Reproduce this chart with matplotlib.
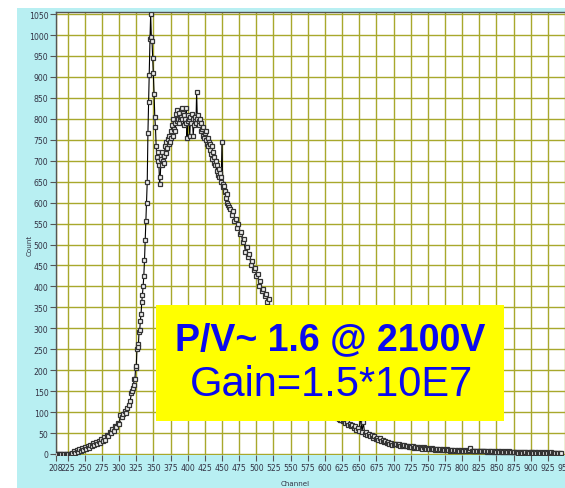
import matplotlib
matplotlib.use("Agg")
import matplotlib.pyplot as plt
from matplotlib.patches import Rectangle
from matplotlib import font_manager
from matplotlib.font_manager import FontProperties
import numpy as np

# ---- data ----
ch_a = list(range(208, 320, 2))
counts_a = [0, 0, 0, 0, 0, 0, 0, 0, 0, 0, 0, 1, 2, 6, 3, 9, 5, 12, 8, 14,
            10, 17, 12, 19, 15, 22, 18, 26, 21, 28, 24, 32, 27, 35, 30, 40, 34, 46, 42, 52,
            50, 60, 56, 68, 65, 74, 72, 92, 88, 96, 102, 98, 110, 118, 126, 145]

ch_b = list(range(319, 461))
counts_b = [150, 158, 165, 180, 178, 205, 210, 250, 262, 255, 290, 295, 318, 335, 362, 380, 400, 425, 462, 510,
            555, 600, 650, 765, 840, 905, 990, 1050, 995, 985, 945, 910, 860, 805, 780, 735, 710, 700, 720, 690,
            645, 660, 705, 690, 720, 700, 712, 695, 735, 718, 745, 730, 752, 740, 760, 745, 770, 755, 785, 760,
            800, 775, 790, 770, 812, 795, 820, 800, 790, 815, 800, 805, 825, 800, 815, 785, 810, 800, 790, 825,
            755, 795, 810, 800, 758, 805, 790, 812, 800, 760, 785, 800, 805, 790, 864, 800, 810, 795, 785, 800,
            770, 790, 775, 760, 780, 755, 765, 750, 770, 740, 755, 735, 745, 725, 740, 715, 735, 705, 720, 695,
            710, 690, 700, 675, 690, 665, 680, 660, 670, 650, 662, 745, 645, 637, 640, 625, 628, 612, 620, 600,
            595, 590]

ch_c = list(range(462, 702, 2))
counts_c = [585, 570, 580, 555, 560, 540, 548, 525, 530, 505, 512, 482, 495, 470, 478, 452, 460, 440, 445, 425,
            430, 401, 412, 390, 395, 377, 383, 362, 370, 350, 345, 335, 338, 325, 320, 312, 314, 302, 300, 290,
            285, 278, 272, 266, 260, 252, 248, 240, 235, 228, 222, 215, 210, 203, 198, 190, 186, 178, 174, 166,
            162, 155, 150, 145, 140, 134, 130, 125, 120, 116, 112, 108, 104, 100, 98, 94, 92, 88, 86, 83,
            80, 82, 78, 80, 74, 76, 70, 72, 66, 70, 62, 66, 58, 62, 55, 94, 52, 76, 48, 52,
            45, 48, 42, 45, 38, 42, 36, 39, 34, 37, 30, 33, 28, 31, 26, 29, 24, 27, 22, 25]

ch_d = list(range(702, 946, 2))
counts_d = [23, 25, 21, 24, 20, 22, 19, 21, 18, 20,
            17, 19, 16, 18, 15, 17, 16, 14, 17, 15,
            13, 16, 14, 12, 15, 13, 11, 14, 12, 10,
            13, 11, 10, 12, 9, 11, 10, 9, 11, 9,
            8, 10, 9, 8, 10, 8, 9, 7, 9, 8,
            7, 9, 8, 7, 9, 14, 8, 7, 8, 6,
            8, 7, 6, 8, 6, 7, 6, 5, 7, 6,
            5, 7, 5, 6, 5, 8, 5, 6, 5, 4,
            6, 5, 4, 6, 5, 4, 5, 4, 5, 4,
            3, 5, 4, 3, 5, 4, 3, 4, 3, 5,
            4, 3, 4, 3, 4, 3, 2, 4, 3, 2,
            4, 3, 2, 3, 4, 2, 3, 2, 3, 2,
            3, 2]

channels = ch_a + ch_b + ch_c + ch_d
counts = counts_a + counts_b + counts_c + counts_d

x_ticks = [208] + list(range(225, 951, 25))
y_ticks = list(range(0, 1051, 50))

label_line1 = "P/V~ 1.6 @ 2100V"
label_line2 = "Gain=1.5*10E7"

# ---- fonts ----
names = {f.name for f in font_manager.fontManager.ttflist}
has_narrow = "Liberation Sans Narrow" in names
tick_family = ["Liberation Sans Narrow", "DejaVu Sans"] if has_narrow else ["DejaVu Sans"]
tick_size = 7 if has_narrow else 5.6
box_family = ["Liberation Sans", "DejaVu Sans"]

# ---- figure ----
W, H = 565, 489
fig = plt.figure(figsize=(W / 100, H / 100), dpi=100, facecolor="white")

cyan = "#B8EFF2"
fig.patches.append(Rectangle((17 / W, 0), 1 - 17 / W, (H - 9) / H,
                             transform=fig.transFigure, facecolor=cyan,
                             edgecolor="none", zorder=-10))

ax_left, ax_right = 56 / W, 1.0
ax_bottom, ax_top = (H - 456) / H, (H - 13) / H
ax = fig.add_axes([ax_left, ax_bottom, ax_right - ax_left, ax_top - ax_bottom])
ax.set_zorder(1)
ax.set_facecolor("white")
ax.set_xlim(208, 942.5)
ax.set_ylim(-2.4, 1055)

grid_col = "#A8A82C"
ax.set_xticks(x_ticks)
ax.set_yticks(y_ticks)
ax.grid(True, color=grid_col, linewidth=1.0)
ax.set_axisbelow(True)

ax.set_xticklabels([str(t) for t in x_ticks], fontsize=tick_size, family=tick_family, color="#333344")
ax.set_yticklabels([str(t) for t in y_ticks], fontsize=tick_size, family=tick_family, color="#333344")
ax.tick_params(axis="both", direction="out", length=4, width=0.8, color="#555555", pad=1.5)

for s in ["top", "left"]:
    ax.spines[s].set_color("#555555")
    ax.spines[s].set_linewidth(1.0)
ax.spines["right"].set_visible(False)
ax.spines["bottom"].set_visible(False)

ax.plot(channels, counts, color="black", linewidth=0.8,
        marker="s", markersize=3.2, markerfacecolor="#f0f0f0",
        markeredgecolor="#333333", markeredgewidth=0.9, zorder=3, clip_on=True)

fig.text(30 / W, (H - 245) / H, "Count", rotation=90, ha="center", va="center",
         fontsize=tick_size - 0.5, family=tick_family, color="#333344")
fig.text(295 / W, (H - 484) / H, "Channel", ha="center", va="center",
         fontsize=tick_size - 0.5, family=tick_family, color="#333344")

# annotation box (drawn above the axes)
bx0, by0, bx1, by1 = 156, 306, 504, 422
fig.patches.append(Rectangle((bx0 / W, (H - by1) / H), (bx1 - bx0) / W, (by1 - by0) / H,
                             transform=fig.transFigure, facecolor="#FFFF00",
                             edgecolor="none", zorder=5))
blue = "#0A0AEE"
fig.text(330 / W, (H - 340) / H, label_line1, ha="center", va="center",
         fontsize=27, fontweight="bold", family=box_family, color=blue, zorder=6)
fig.text(332 / W, (H - 385) / H, label_line2, ha="center", va="center",
         fontsize=30, family=box_family, color=blue, zorder=6)

fig.savefig("out.png", dpi=100, facecolor="white")
